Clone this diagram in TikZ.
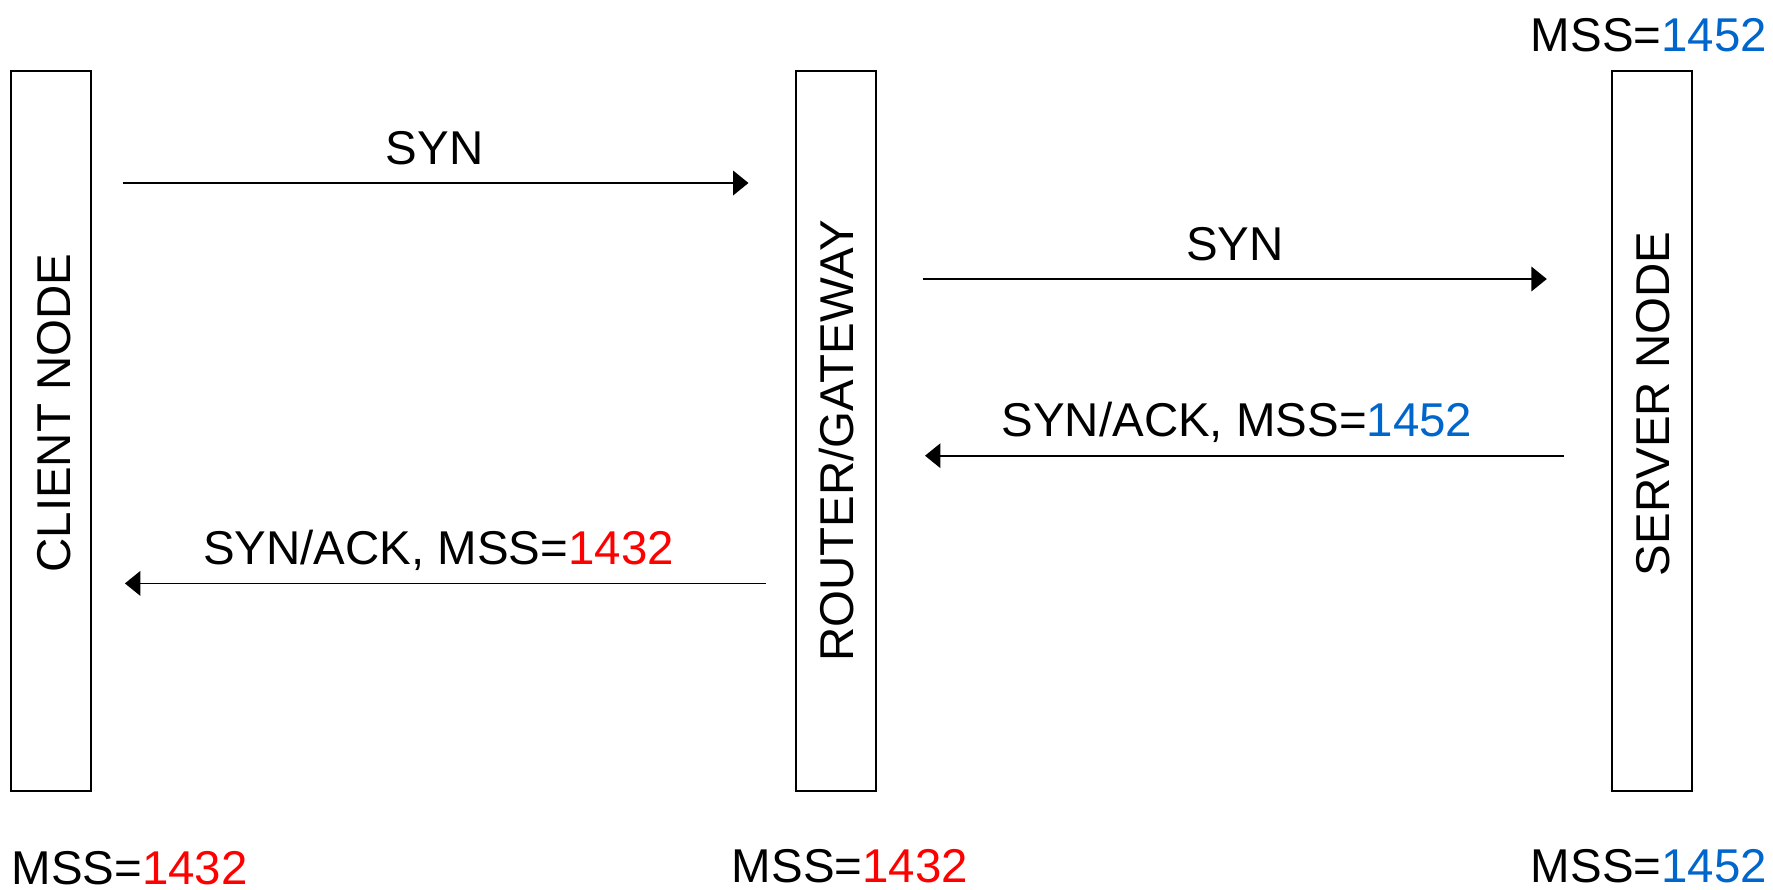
\documentclass[tikz,border=0pt]{standalone}
\usepackage{fontspec}
\setmainfont{Liberation Sans}
\usetikzlibrary{arrows.meta}
\definecolor{mssred}{RGB}{255,0,0}
\definecolor{mssblue}{RGB}{0,102,204}

\begin{document}
\begin{tikzpicture}[
    every node/.style={font=\fontsize{13.5}{16}\selectfont},
    lane/.style={
        draw,
        line width=0.5pt,
        inner sep=0pt,
        outer sep=0pt,
        minimum width=0.8cm,
        minimum height=7.2cm
    },
    lanetext/.style={rotate=90, inner sep=0pt},
    mss/.style={inner sep=0pt},
    msg/.style={inner sep=0pt, text depth=0pt},
    arrow/.style={-{Triangle[length=4.4pt,width=7pt]}, line width=0.5pt}
]
\useasboundingbox (0,0) rectangle (17.73,-8.89);

% Lanes
\node[lane] (client) at (0.51,-4.31) {};
\node[lane] (router) at (8.36,-4.31) {};
\node[lane] (server) at (16.52,-4.31) {};

\node[lanetext] (clienttext) at (0.54,-4.13) {CLIENT NODE};
\node[lanetext] (routertext) at (8.37,-4.41) {ROUTER/GATEWAY};
\node[lanetext] (servertext) at (16.53,-4.04) {SERVER NODE};

% MSS values
\node[mss, anchor=base] (mssserver) at (16.49,-0.51) {MSS=\textcolor{mssblue}{1452}};
\node[mss, anchor=base west] (mssclientlow) at (0.11,-8.84) {MSS=\textcolor{mssred}{1432}};
\node[mss, anchor=base] (mssrouterlow) at (8.50,-8.82) {MSS=\textcolor{mssred}{1432}};
\node[mss, anchor=base] (mssserverlow) at (16.49,-8.82) {MSS=\textcolor{mssblue}{1452}};

% Messages
\draw[arrow, shorten <=0.315cm, shorten >=0.475cm]
    (client.east |- 0,-1.83) -- node[msg, above=0.18cm, xshift=-0.09cm] (syna) {SYN} (router.west |- 0,-1.83);
\draw[arrow, shorten <=0.466cm, shorten >=0.652cm]
    (router.east |- 0,-2.79) -- node[msg, above=0.18cm, xshift=-0.09cm] (synb) {SYN} (server.west |- 0,-2.79);
\draw[arrow, shorten <=0.483cm, shorten >=0.49cm]
    (server.west |- 0,-4.557) -- node[msg, above=0.18cm, xshift=-0.07cm] (synacka) {SYN/ACK, MSS=\textcolor{mssblue}{1452}} (router.east |- 0,-4.557);
\draw[arrow, shorten <=0.305cm, shorten >=0.339cm]
    (router.west |- 0,-5.834) -- node[msg, above=0.18cm, xshift=-0.05cm] (synackb) {SYN/ACK, MSS=\textcolor{mssred}{1432}} (client.east |- 0,-5.834);

\end{tikzpicture}
\end{document}
